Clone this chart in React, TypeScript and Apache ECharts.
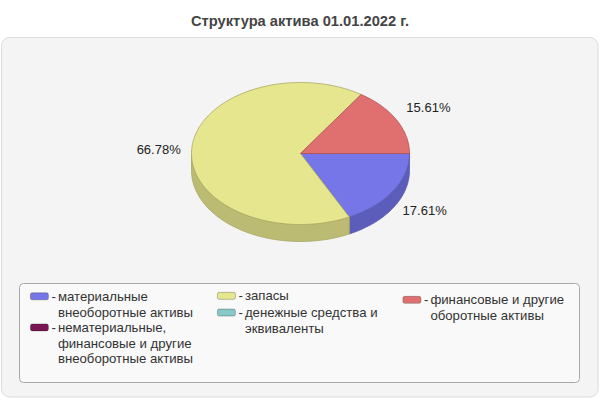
import { useEffect, useRef } from 'react'
import * as echarts from 'echarts'

// ===== данные =====
const title = 'Структура актива 01.01.2022 г.'
const names = [
  'материальные внеоборотные активы',
  'нематериальные, финансовые и другие внеоборотные активы',
  'запасы',
  'денежные средства и эквиваленты',
  'финансовые и другие оборотные активы',
]
// как подписи переносятся в легенде
const legendLines = [
  ['материальные', 'внеоборотные активы'],
  ['нематериальные,', 'финансовые и другие', 'внеоборотные активы'],
  ['запасы'],
  ['денежные средства и', 'эквиваленты'],
  ['финансовые и другие', 'оборотные активы'],
]
const shares = [17.61, 0, 66.78, 0, 15.61]
const legendColumns = [[0, 1], [2, 3], [4]]

// ===== оформление =====
const topColors = ['#7676E9', '#7A1652', '#E6E68E', '#88C8C8', '#E07070']
const sideColors = ['#5C5CBB', '#5E1040', '#BBBB74', '#6CA0A0', '#B45A5A']
const edgeColors = ['#5A5AB0', '#5A1040', '#A8A862', '#609090', '#B05050']
const FONT = 'Arial, "Liberation Sans", sans-serif'

const CX = 300.5
const CY = 153.5
const RX = 109
const RY = 71
const DEPTH = 17
const LABEL_RX = 120
const LABEL_RY = 104
const LABEL_DY = 2.5

const legendLeft = [30, 217, 402.5]
const legendTop = [288.5, 288, 292]

function arc(a0: number, a1: number, dy: number) {
  const n = Math.max(2, Math.ceil((a1 - a0) / (Math.PI / 180)))
  const pts: number[][] = []
  for (let i = 0; i <= n; i++) {
    const a = a0 + ((a1 - a0) * i) / n
    pts.push([CX + RX * Math.cos(a), CY + RY * Math.sin(a) + dy])
  }
  return pts
}

function makeRenderItem(idx: number) {
  return () => {
    const total = shares.reduce((s, v) => s + v, 0)
    const before = shares.slice(0, idx).reduce((s, v) => s + v, 0)
    if (shares[idx] <= 0) return { type: 'group', children: [] }
    const a0 = (before / total) * Math.PI * 2
    const a1 = ((before + shares[idx]) / total) * Math.PI * 2
    const children: any[] = []
    // боковая стенка видна только спереди (0..π)
    const s = Math.max(a0, 0)
    const e = Math.min(a1, Math.PI)
    if (e > s) {
      const upper = arc(s, e, 0)
      const lower = arc(s, e, DEPTH).reverse()
      children.push({
        type: 'polygon',
        z2: 1,
        shape: { points: upper.concat(lower) },
        style: { fill: sideColors[idx], stroke: edgeColors[idx], lineWidth: 0.8 },
      })
    }
    children.push({
      type: 'polygon',
      z2: 10,
      shape: { points: [[CX, CY], ...arc(a0, a1, 0)] },
      style: { fill: topColors[idx], stroke: edgeColors[idx], lineWidth: 0.8 },
    })
    const mid = (a0 + a1) / 2
    const cos = Math.cos(mid)
    const sin = Math.sin(mid)
    children.push({
      type: 'text',
      z2: 20,
      style: {
        text: shares[idx].toFixed(2) + '%',
        x: CX + LABEL_RX * cos,
        y: CY + LABEL_RY * sin + LABEL_DY,
        align: cos >= 0 ? 'left' : 'right',
        verticalAlign: 'middle',
        fill: '#222',
        fontSize: 13,
        fontFamily: FONT,
      },
    })
    return { type: 'group', children }
  }
}

function legendText(name: string) {
  const lines = legendLines[names.indexOf(name)]
  return lines.map((l, i) => (i === 0 ? '{d|-}' : '{d|\u00a0}') + '{t|' + l + '}').join('\n')
}

export default function App() {
  const ref = useRef<HTMLDivElement>(null)

  useEffect(() => {
    if (!ref.current) return
    const chart = echarts.init(ref.current, null, { renderer: 'svg' })
    const textBase = { fontSize: 13.2, lineHeight: 15.7, color: '#333', fontFamily: FONT }
    chart.setOption({
      animation: false,
      backgroundColor: '#fff',
      title: {
        text: title,
        left: 'center',
        top: 13,
        padding: 0,
        textStyle: { fontSize: 14.7, fontWeight: 'bold', color: '#444', fontFamily: FONT },
      },
      graphic: [
        {
          type: 'rect',
          z: -10,
          silent: true,
          shape: { x: 1.5, y: 37.5, width: 596.5, height: 359.5, r: 8 },
          style: { fill: '#F4F4F4', stroke: '#DCDCDC', lineWidth: 1 },
        },
        {
          type: 'rect',
          z: -9,
          silent: true,
          shape: { x: 19.5, y: 283.5, width: 560, height: 99, r: 4 },
          style: { fill: '#F9F9F9', stroke: '#A8A8A8', lineWidth: 1 },
        },
      ],
      legend: legendColumns.map((col, ci) => ({
        orient: 'vertical',
        left: legendLeft[ci],
        top: legendTop[ci],
        padding: 0,
        itemGap: 1,
        itemWidth: 18,
        itemHeight: 7,
        icon: 'roundRect',
        selectedMode: false,
        itemStyle: { borderWidth: 0.8, borderColor: 'rgba(0,0,0,0.3)' },
        data: col.map((i) => names[i]),
        formatter: legendText,
        textStyle: {
          ...textBase,
          height: 15.7,
          padding: [0, 0, 0, -2],
          rich: {
            d: { ...textBase, width: 6.5 },
            t: { ...textBase },
          },
        },
      })),
      series: names.map((name, i) => ({
        type: 'custom',
        name,
        coordinateSystem: 'none',
        itemStyle: { color: topColors[i] },
        data: [[shares[i]]],
        renderItem: makeRenderItem(i),
      })),
    })
    return () => chart.dispose()
  }, [])

  return (
    <div
      ref={ref}
      style={{ position: 'absolute', left: 0, top: 0, width: 600, height: 400 }}
    />
  )
}
